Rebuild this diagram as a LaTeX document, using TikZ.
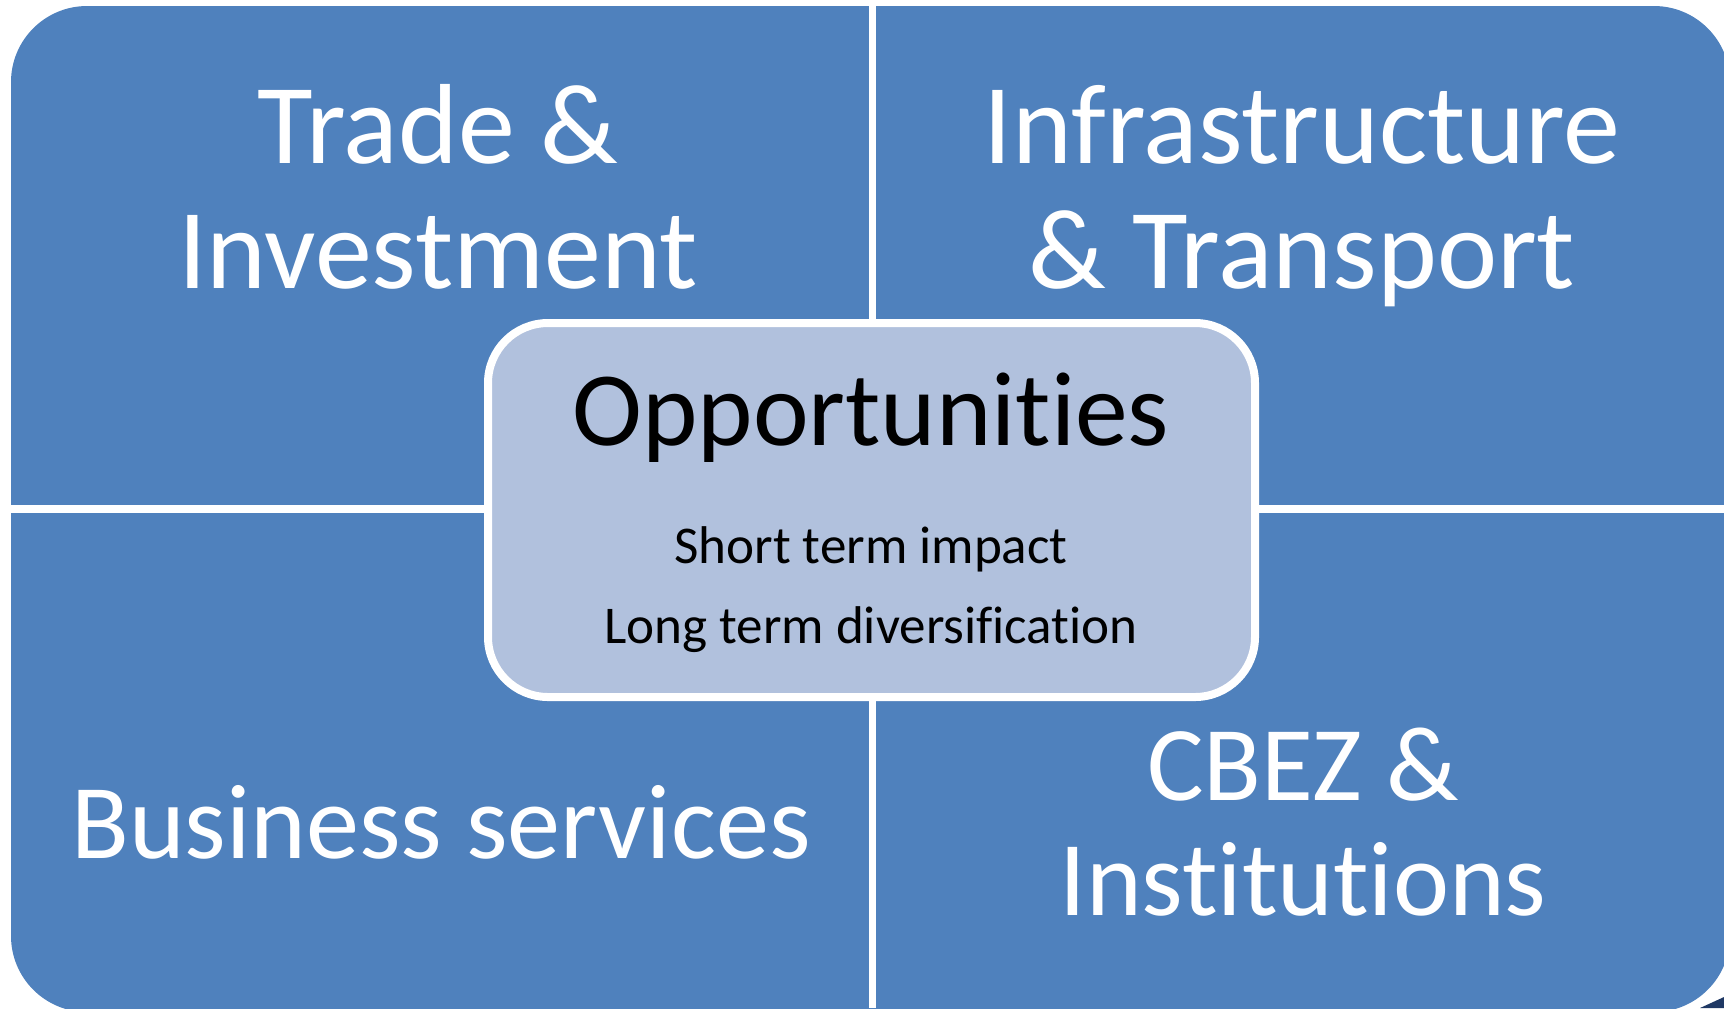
\documentclass[tikz,border=0pt]{standalone}
\usepackage{fontspec}
\setmainfont{Carlito}[Ligatures=NoCommon]
\usepackage{xcolor}
\definecolor{azulcaja}{RGB}{79,129,189}
\definecolor{azulclaro}{RGB}{177,193,221}
\definecolor{azulmarino}{RGB}{31,56,100}

\begin{document}
\begin{tikzpicture}[x=0.01cm, y=-0.01cm,
    titulo/.style={text=white, align=center, anchor=base, font=\fontsize{32.4}{35.3}\selectfont},
    tituloabajo/.style={text=white, align=center, anchor=base, font=\fontsize{30.2}{32.7}\selectfont},
    subtitulo/.style={text=black, align=center, anchor=base, font=\fontsize{15.1}{22.5}\selectfont},
  ]

    % marco de la pagina
    \useasboundingbox (0,0) rectangle (1724,1008);
    \clip (0,0) rectangle (1724,1008);

    % sombra abajo a la derecha
    \fill[azulmarino] (1700,1008) -- (1724,997) -- (1724,1008) -- cycle;

    % fondo azul redondeado
    \fill[azulcaja, rounded corners=0.76cm] (11,6) rectangle (1730,1012);

    % separadores blancos
    \draw[white, line width=0.07cm] (872,0) -- (872,1008);
    \draw[white, line width=0.08cm] (0,509) -- (1724,509);

    % caja central
    \draw[white, line width=0.08cm, fill=azulclaro, rounded corners=0.6cm] (488,323) rectangle (1255,697);

    % cuadrantes (base = ultima linea)
    \node[titulo] (comercio) at (438,288) {Trade \&\\Investment};
    \node[titulo] (infra) at (1302,288) {Infrastructure\\\& Transport};
    \node[tituloabajo] (negocios) at (441,858) {Business services};
    \node[tituloabajo] (cbez) at (1303,915) {CBEZ \&\\Institutions};

    % centro
    \node[subtitulo, font=\fontsize{30}{36}\selectfont] (oportunidades) at (871,445) {Opportunities};
    \node[subtitulo] (impacto) at (871,643) {Short term impact\\Long term diversification};

\end{tikzpicture}
\end{document}
